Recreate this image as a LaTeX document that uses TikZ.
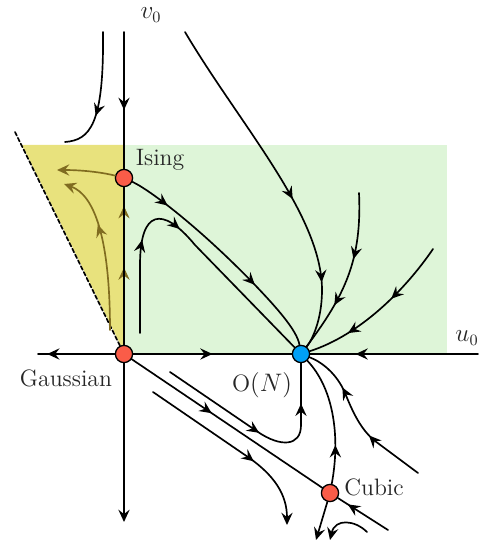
\documentclass[tikz,border=0pt]{standalone}
\usepackage{tikz}
\usetikzlibrary{arrows.meta,decorations.markings}
\definecolor{flowgreen}{RGB}{222,245,216}
\definecolor{flowyellow}{RGB}{232,226,125}
\definecolor{flowolive}{RGB}{128,108,32}
\definecolor{fixred}{RGB}{250,92,72}
\definecolor{fixblue}{RGB}{0,160,245}

\begin{document}
\begin{tikzpicture}[>={Stealth[length=7pt,width=6.4pt,inset=2.5pt]},
 line cap=round,line join=round,
 x={(0.02cm,0cm)},y={(0cm,-0.02cm)},
 flow/.style={line width=0.95pt},
 flowmark/.style={postaction={decorate,decoration={markings,
   mark=at position #1 with {\arrow{>}}}}},
 fixpt/.style={circle,draw=black,line width=0.75pt,inner sep=0pt,
   minimum size=9.8pt},
 lbl/.style={font=\fontsize{13.5}{16}\selectfont,text=black!85}]
 \useasboundingbox (0,0) rectangle (485,546);
 % Obszary: zielony (stabilny O(N)) i żółty.
 \fill[flowgreen] (124,145) rectangle (447,354);
 \fill[flowyellow] (22,145) -- (124,145) -- (124,352) -- cycle;
 % Punkty stałe.
 \node[fixpt,fill=fixred] (G) at (124,354) {};
 \node[fixpt,fill=fixred] (I) at (124,178) {};
 \node[fixpt,fill=fixblue] (O) at (301,354) {};
 \node[fixpt,fill=fixred] (C) at (330,493) {};
 \coordinate (vtop) at (124,32);
 \coordinate (vbot) at (124,522);
 \coordinate (uleft) at (38,354);
 \coordinate (uright) at (478,354);
 \coordinate (crit) at (15,132);
 % Osie.
 \path[color=flowolive,flowmark=0.49,flowmark=0.88] (G) -- (I);
 \draw[flow] (G) -- (I);
 \draw[flow,flowmark=0.57] (vtop) -- (I);
 \draw[flow,->] (G) -- (vbot);
 \draw[flow,flowmark=0.88] (G) -- (uleft);
 \draw[flow,flowmark=0.5] (G) -- (O);
 \draw[flow,flowmark=0.73] (uright) -- (O);
 \draw[line width=0.95pt,dash pattern=on 2.3pt off 1.4pt] (crit) -- (G);
 % Linie przepływu w górnej półpłaszczyźnie.
 \coordinate (a0) at (103,32);
 \coordinate (a1) at (65,142);
 \draw[flow,flowmark=0.66] (a0) .. controls (104,125) and (90,140) .. (a1);
 \coordinate (b0) at (185,32);
 \draw[flow,flowmark=0.56,flowmark=0.81]
  (b0) .. controls (240,125) and (322,215) .. (322,290)
  .. controls (322,320) and (312,340) .. (O);
 \coordinate (c0) at (359,193);
 \draw[flow,flowmark=0.4,flowmark=0.7]
  (c0) .. controls (362,260) and (345,295) .. (O);
 \coordinate (d0) at (433,249);
 \draw[flow,flowmark=0.4,flowmark=0.74]
  (d0) .. controls (405,290) and (360,335) .. (O);
 \draw[flow,flowmark=0.18,flowmark=0.68]
  (I) .. controls (150,190) and (200,228) .. (255,285)
  .. controls (275,306) and (297,330) .. (O);
 \coordinate (f0) at (140,333);
 \draw[flow,flowmark=0.3,flowmark=0.47]
  (f0) -- (140,265) .. controls (140,210) and (162,205) .. (195,245) -- (O);
 % Linie przepływu w dolnej półpłaszczyźnie.
 \coordinate (cend) at (388,530);
 \draw[flow,flowmark=0.42] (G) -- (C);
 \draw[flow,flowmark=0.8] (cend) -- (C);
 \coordinate (h0) at (170,372);
 \draw[flow,flowmark=0.48,flowmark=0.82]
  (h0) -- (258,432) .. controls (280,447) and (301,447) .. (301,425) -- (O);
 \coordinate (i0) at (153,392);
 \coordinate (i1) at (287,525);
 \draw[flow,->,flowmark=0.62]
  (i0) -- (245,455) .. controls (275,475) and (287,495) .. (i1);
 \draw[flow,flowmark=0.3] (C) .. controls (340,440) and (335,390) .. (O);
 \coordinate (k0) at (418,473);
 \draw[flow,flowmark=0.38,flowmark=0.72]
  (k0) -- (375,441) .. controls (360,429) and (352,410) .. (345,393)
  .. controls (337,374) and (322,362) .. (O);
 \coordinate (l1) at (316,540);
 \draw[flow,->] (C) -- (l1);
 \coordinate (m0) at (367,532);
 \coordinate (m1) at (330,540);
 \draw[flow,->] (m0) .. controls (355,520) and (335,518) .. (m1);
 % Przepływ w obszarze żółtym.
 \coordinate (n1) at (57,170);
 \draw[flow,color=flowolive,->] (I) .. controls (105,173) and (85,170) .. (n1);
 \coordinate (o0) at (110,330);
 \coordinate (o1) at (64,184);
 \draw[flow,color=flowolive,->,flowmark=0.66]
  (o0) .. controls (110,240) and (95,195) .. (o1);
 % Etykiety.
 \node[lbl] (v0lbl) at (151,15) {$v_0$};
 \node[lbl] (u0lbl) at (467,338) {$u_0$};
 \node[lbl] (isinglbl) at (160,160) {Ising};
 \node[lbl] (gausslbl) at (66,378) {Gaussian};
 \node[lbl] (onlbl) at (262,385) {O$(N)$};
 \node[lbl] (cubiclbl) at (374,487) {Cubic};
\end{tikzpicture}
\end{document}
